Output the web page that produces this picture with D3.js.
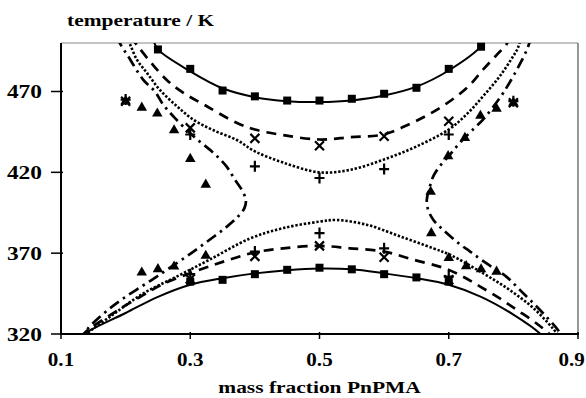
<html>
<head>
<script src="https://d3js.org/d3.v7.min.js"></script>
<style>
body { margin: 0; background: #fff; }
text { font-family: "Liberation Serif", "Times New Roman", serif; font-weight: bold; fill: #000; }
</style>
</head>
<body>
<div id="plot"></div>
<script>

/*** Data: [mass fraction, temperature / K] ***/

// solid line + squares
var solidUpper = [[0.243,502],[0.25,496],[0.3,482.5],[0.35,472],[0.4,466.5],[0.45,464],[0.5,463.5],[0.55,464.5],[0.6,467.5],[0.65,473],[0.7,483],[0.75,498],[0.755,502]];
var solidLower = [[0.13,318],[0.135,320],[0.2,333],[0.25,343],[0.3,350.5],[0.35,354.5],[0.4,357.5],[0.45,359.5],[0.5,360.5],[0.55,360],[0.6,357.5],[0.65,354.5],[0.7,350.5],[0.75,343],[0.8,332],[0.842,320],[0.846,318]];
var squaresUpperX = [0.25, 0.3, 0.35, 0.4, 0.45, 0.5, 0.55, 0.6, 0.65, 0.7, 0.75];
var squaresUpperT = [496, 484, 470.6, 467, 464.4, 464.4, 465.5, 468.6, 472.3, 484, 497.7];
var squaresLowerX = [0.3, 0.35, 0.4, 0.45, 0.5, 0.55, 0.6, 0.65, 0.7];
var squaresLowerT = [352.4, 353.5, 357, 359.7, 361, 360, 357, 355, 352.4];

// dashed line + crosses
var dashedUpper = [[0.208,504],[0.217,499],[0.239,488],[0.264,477],[0.29,469],[0.325,461],[0.37,451],[0.4,446.5],[0.444,443],[0.5,440.3],[0.547,441.7],[0.6,443.5],[0.64,450],[0.67,456],[0.7,463.5],[0.73,473],[0.753,483.5],[0.775,493],[0.789,499],[0.795,504]];
var dashedLower = [[0.132,318],[0.137,320.8],[0.191,335.5],[0.227,344],[0.258,351],[0.32,360.5],[0.361,366],[0.4,370.5],[0.444,373],[0.5,374.5],[0.547,373],[0.6,371],[0.645,366],[0.691,361],[0.722,355.5],[0.748,349.5],[0.779,342],[0.805,335],[0.836,326.5],[0.858,319],[0.861,317]];
var crossesUpperX = [0.2, 0.3, 0.4, 0.5, 0.6, 0.7, 0.8];
var crossesUpperT = [464, 447.5, 441, 436.5, 442.3, 451.6, 463];
var crossesLowerX = [0.3, 0.4, 0.5, 0.6, 0.7];
var crossesLowerT = [354, 368, 374.5, 367.5, 353.5];

// dotted line + plus signs
var dottedUpper = [[0.201,504],[0.207,499],[0.217,490],[0.233,481.5],[0.253,471],[0.279,461],[0.305,452.5],[0.336,446],[0.372,440],[0.4,433],[0.444,426],[0.5,420],[0.547,421.5],[0.6,428],[0.65,436],[0.7,446.5],[0.728,456],[0.753,467],[0.779,479.5],[0.8,492],[0.807,497],[0.812,504]];
var dottedLower = [[0.133,317],[0.138,319.5],[0.176,330.7],[0.227,345],[0.279,355.5],[0.33,366],[0.392,379],[0.444,385.5],[0.5,389.5],[0.526,390.5],[0.573,387.6],[0.624,380.5],[0.676,373],[0.702,369],[0.753,357.6],[0.794,347.3],[0.831,336],[0.861,323.5],[0.872,318]];
var plusUpperX = [0.2, 0.3, 0.4, 0.5, 0.6, 0.7, 0.8];
var plusUpperT = [465, 443.4, 423.7, 416.5, 422, 443.4, 464];
var plusLowerX = [0.3, 0.4, 0.5, 0.6, 0.7];
var plusLowerT = [357, 371, 382.4, 373, 355.5];

// dash-dot line + triangles (hourglass)
var dashDotLeft = [[0.186,504],[0.193,498.5],[0.202,493],[0.227,477.4],[0.245,470.2],[0.258,462],[0.276,453.7],[0.305,442.3],[0.336,432],[0.356,423.7],[0.369,415.5],[0.38,409],[0.386,403],[0.384,398],[0.374,392.7],[0.354,385.5],[0.33,378.3],[0.305,371],[0.279,363.8],[0.25,356],[0.227,350],[0.2,343],[0.176,336],[0.142,323.5],[0.134,318]];
var dashDotRight = [[0.828,504],[0.82,495],[0.794,475.4],[0.779,466],[0.753,452.6],[0.74,447.5],[0.717,438.2],[0.702,431],[0.686,423.7],[0.676,417.5],[0.67,410],[0.666,403],[0.668,397],[0.676,390.7],[0.691,384.5],[0.715,376.2],[0.733,371],[0.758,363.8],[0.789,355.5],[0.81,347.3],[0.831,339],[0.851,330.7],[0.869,322.5],[0.876,318]];
var trianglesX = [0.2, 0.225, 0.249, 0.275, 0.3, 0.324, 0.672, 0.699, 0.725, 0.749, 0.774, 0.8, 0.225, 0.25, 0.275, 0.324, 0.673, 0.7, 0.727, 0.75, 0.774];
var trianglesT = [464, 460, 456.4, 446, 428.3, 412.4, 408, 430, 441.3, 455, 459.3, 463, 358, 360.1, 361.7, 368.4, 382.4, 367, 362, 360, 358.6];

var xTicks = [0.1, 0.3, 0.5, 0.7, 0.9];
var yTicks = [320, 370, 420, 470];

/*** Chart ***/

var width = 586, height = 398;
var plotLeft = 61, plotRight = 578, plotTop = 43, plotBottom = 334;

var svg = d3.select("#plot").append("svg")
.attr("width", width).attr("height", height);

var xScale = d3.scaleLinear().domain([0.1, 0.9]).range([plotLeft, plotRight]);
var yScale = d3.scaleLinear().domain([320, 500]).range([plotBottom, plotTop]);

svg.append("clipPath").attr("id", "clip")
.append("rect")
.attr("x", plotLeft).attr("y", plotTop)
.attr("width", plotRight - plotLeft).attr("height", plotBottom - plotTop);

// frame: light top/right, black axes
svg.append("line")
.attr("x1", plotLeft).attr("x2", plotRight).attr("y1", plotTop).attr("y2", plotTop)
.style("stroke", "#888").style("stroke-width", 1);
svg.append("line")
.attr("x1", plotRight).attr("x2", plotRight).attr("y1", plotTop).attr("y2", plotBottom)
.style("stroke", "#333").style("stroke-width", 1);

var line = d3.line()
.x(function (d) { return xScale(d[0]); })
.y(function (d) { return yScale(d[1]); })
.curve(d3.curveCatmullRom.alpha(0.5));

var curves = svg.append("g").attr("clip-path", "url(#clip)");

function drawCurve(points, dash, strokeWidth) {
	curves.append("path")
	.attr("d", line(points))
	.style("fill", "none")
	.style("stroke", "#000")
	.style("stroke-width", strokeWidth)
	.style("stroke-dasharray", dash);
}

drawCurve(solidUpper, null, 2);
drawCurve(solidLower, null, 2);
drawCurve(dashedUpper, "10,7", 2.7);
drawCurve(dashedLower, "10,7", 2.7);
drawCurve(dottedUpper, "2.4,1.8", 2.6);
drawCurve(dottedLower, "2.4,1.8", 2.6);
drawCurve(dashDotLeft, "11,5,2.5,5", 2.7);
drawCurve(dashDotRight, "11,5,2.5,5", 2.7);

// markers
var marks = svg.append("g");

function drawSquares(xs, ts) {
	marks.selectAll(null).data(d3.zip(xs, ts)).enter()
	.append("rect")
	.attr("x", function (d) { return xScale(d[0]) - 4; })
	.attr("y", function (d) { return yScale(d[1]) - 4; })
	.attr("width", 8).attr("height", 8)
	.style("fill", "#000");
}

function drawCrosses(xs, ts) {
	marks.selectAll(null).data(d3.zip(xs, ts)).enter()
	.append("path")
	.attr("transform", function (d) { return "translate(" + xScale(d[0]) + "," + yScale(d[1]) + ")"; })
	.attr("d", "M-4.5,-4.5L4.5,4.5M-4.5,4.5L4.5,-4.5")
	.style("stroke", "#000").style("stroke-width", 2.2);
}

function drawPlus(xs, ts) {
	marks.selectAll(null).data(d3.zip(xs, ts)).enter()
	.append("path")
	.attr("transform", function (d) { return "translate(" + xScale(d[0]) + "," + yScale(d[1]) + ")"; })
	.attr("d", "M-5,0L5,0M0,-5.5L0,5.5")
	.style("stroke", "#000").style("stroke-width", 2.2);
}

var triangle = d3.symbol().type(d3.symbolTriangle).size(48);

function drawTriangles(xs, ts) {
	marks.selectAll(null).data(d3.zip(xs, ts)).enter()
	.append("path")
	.attr("transform", function (d) { return "translate(" + xScale(d[0]) + "," + yScale(d[1]) + ")"; })
	.attr("d", triangle)
	.style("fill", "#000");
}

drawSquares(squaresUpperX, squaresUpperT);
drawSquares(squaresLowerX, squaresLowerT);
drawTriangles(trianglesX, trianglesT);
drawCrosses(crossesUpperX, crossesUpperT);
drawCrosses(crossesLowerX, crossesLowerT);
drawPlus(plusUpperX, plusUpperT);
drawPlus(plusLowerX, plusLowerT);

// axes
svg.append("line")
.attr("x1", plotLeft).attr("x2", plotLeft).attr("y1", plotTop).attr("y2", plotBottom + 1)
.style("stroke", "#000").style("stroke-width", 2);
svg.append("line")
.attr("x1", plotLeft - 1).attr("x2", plotRight + 1).attr("y1", plotBottom).attr("y2", plotBottom)
.style("stroke", "#000").style("stroke-width", 2);

svg.selectAll(".ytick").data(yTicks).enter()
.append("line").attr("class", "ytick")
.attr("x1", plotLeft - 10).attr("x2", plotLeft + 2)
.attr("y1", function (d) { return yScale(d); })
.attr("y2", function (d) { return yScale(d); })
.style("stroke", "#000").style("stroke-width", 1.5);

svg.selectAll(".ylabel").data(yTicks).enter()
.append("text").attr("class", "ylabel")
.attr("transform", function (d) { return "translate(" + (plotLeft - 19) + "," + (yScale(d) + 6.5) + ") scale(1.2,1)"; })
.style("text-anchor", "end")
.style("font-size", "19.5px")
.text(function (d) { return d; });

svg.selectAll(".xtick").data(xTicks).enter()
.append("line").attr("class", "xtick")
.attr("x1", function (d) { return xScale(d); })
.attr("x2", function (d) { return xScale(d); })
.attr("y1", plotBottom - 2).attr("y2", plotBottom + 5)
.style("stroke", "#000").style("stroke-width", 1.5);

// x labels; the last one is nudged in so it stays inside the picture
svg.selectAll(".xlabel").data(xTicks).enter()
.append("text").attr("class", "xlabel")
.style("text-anchor", "middle")
.style("font-size", "19.5px")
.text(function (d) { return d3.format(".1f")(d); })
.attr("transform", function (d) {
	var half = this.getBBox().width * 1.08 / 2;
	var cx = Math.min(xScale(d), width - 1 - half);
	return "translate(" + cx + "," + (plotBottom + 32) + ") scale(1.08,1)";
});

svg.append("text")
.attr("transform", "translate(67,26) scale(1.3,1)")
.style("font-size", "16.5px")
.text("temperature / K");

svg.append("text")
.attr("transform", "translate(" + xScale(0.5) + ",393) scale(1.3,1)")
.style("text-anchor", "middle")
.style("font-size", "16.5px")
.text("mass fraction PnPMA");

</script>
</body>
</html>
